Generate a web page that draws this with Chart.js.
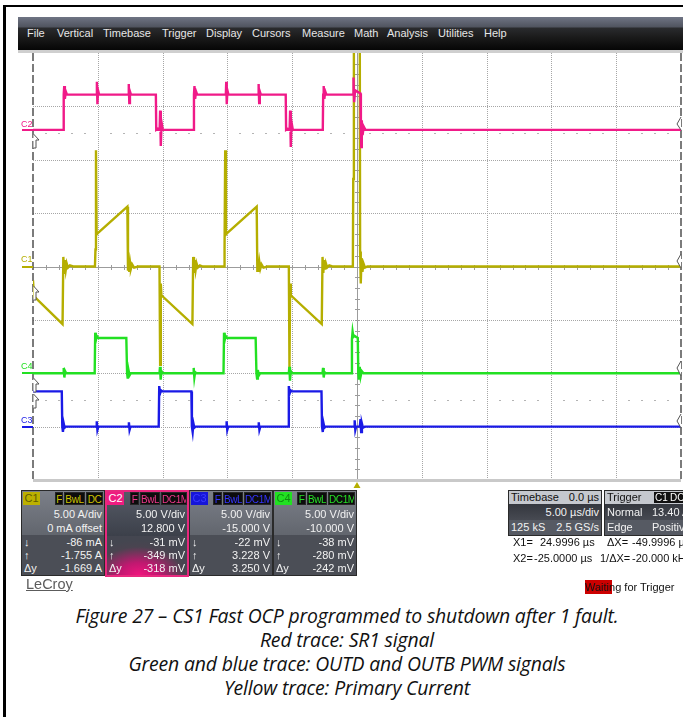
<!DOCTYPE html>
<html><head><meta charset="utf-8">
<script src="https://cdn.jsdelivr.net/npm/chart.js@4.4.1/dist/chart.umd.min.js"></script>
<style>
html,body{margin:0;padding:0}
body{width:683px;height:717px;background:#fff;position:relative;overflow:hidden;font-family:"Liberation Sans",Arial,sans-serif}
.a{position:absolute;white-space:nowrap}
#frameL{left:3px;top:5px;width:3px;height:712px;background:#000}
#frameT{left:3px;top:5px;width:680px;height:2px;background:#000}
#menu{left:18px;top:17px;width:665px;height:33px;background:linear-gradient(#6f7484 0px,#50545f 10px,#2a2b2e 11px,#1b1b1b 20px,#060606 33px)}
#sep{left:18px;top:50px;width:665px;height:3px;background:#cfcfcf}
.mi{top:27px;font-size:11px;line-height:13px;color:#e6e6e6;letter-spacing:0px}
#wrap{left:30px;top:50px;width:654px;height:433px}
.lab{font-size:9px;line-height:10px}
.seg{height:2px}
.panel{top:490px;height:84px;border:1px solid #2a2a2a;overflow:hidden;font-size:11px;color:#f2f2f2}
.up{position:absolute;left:0;top:0;right:0;height:44px}
.lo{position:absolute;left:0;top:44px;right:0;bottom:0}
.row{position:absolute;left:2px;right:2px;height:13px;line-height:13px}
.row .r{position:absolute;right:0}
.row .l{position:absolute;left:0}
.bd{position:absolute;top:1px;height:13px;line-height:13px;font-size:10px;letter-spacing:-0.4px;text-align:center;background:#0c0c0c;border:1px solid #262626;box-sizing:border-box;overflow:hidden}
.cb{position:absolute;top:1px;left:1px;width:17px;height:13px;line-height:13px;font-size:11px;text-align:center}
.tp{top:490px;height:44px;border:1px solid #2a2a2a;font-size:11px;color:#f2f2f2;overflow:hidden}
.cur{font-size:11px;line-height:13px;color:#111}
#cap{left:0;top:604px;width:694px;text-align:center;font-family:"Open Sans",sans-serif;font-style:italic;font-size:19.4px;letter-spacing:-0.15px;line-height:24px;color:#111}
</style></head>
<body>
<div class="a" id="frameL"></div><div class="a" id="frameT"></div>
<div class="a" id="menu"></div><div class="a" id="sep"></div>
<span class="a mi" style="left:27px">File</span>
<span class="a mi" style="left:57px">Vertical</span>
<span class="a mi" style="left:103px">Timebase</span>
<span class="a mi" style="left:162px">Trigger</span>
<span class="a mi" style="left:206px">Display</span>
<span class="a mi" style="left:252px">Cursors</span>
<span class="a mi" style="left:302px">Measure</span>
<span class="a mi" style="left:354px">Math</span>
<span class="a mi" style="left:387px">Analysis</span>
<span class="a mi" style="left:438px">Utilities</span>
<span class="a mi" style="left:484px">Help</span>

<div class="a" id="wrap"><canvas id="scope" width="654" height="433"></canvas></div>

<!-- channel labels on left -->
<span class="a lab" style="left:21px;top:119px;color:#f01a88">C2</span>
<div class="a seg" style="left:22px;top:129px;width:11px;background:#f01a88"></div>
<span class="a lab" style="left:21px;top:254px;color:#b5ae00">C1</span>
<div class="a seg" style="left:22px;top:266px;width:11px;background:#b5ae00"></div>
<span class="a lab" style="left:21px;top:361px;color:#22e022">C4</span>
<div class="a seg" style="left:22px;top:372px;width:11px;background:#22e022"></div>
<span class="a lab" style="left:21px;top:415px;color:#1a1ae6">C3</span>
<div class="a seg" style="left:22px;top:426px;width:11px;background:#1a1ae6"></div>

<!-- ground / offset markers -->
<svg class="a" style="left:0;top:0" width="683" height="500" viewBox="0 0 683 500">
 <g fill="#fff" stroke="#555" stroke-width="1">
  <path d="M33.5 134 L39 140 L36 140 L36 148 L33.5 148"/>
  <path d="M33.5 286 L39 292 L36 292 L36 300 L33.5 300"/>
  <path d="M33.5 378 L39 384 L36 384 L36 392 L33.5 392"/>
  <path d="M33.5 394 L39 400 L36 400 L36 408 L33.5 408"/>
  <path d="M681 117 L677 124 L681 130"/>
  <path d="M681 254 L677 261 L681 268"/>
  <path d="M681 361 L677 368 L681 376"/>
  <path d="M681 414 L677 421 L681 428"/>
 </g>
 <polygon points="357,482 353.5,488 360.5,488" fill="#b5ae00"/>
</svg>

<!-- channel panels -->
<div class="a panel" style="left:21px;width:82px">
 <div class="up" style="background:linear-gradient(#7b7f88,#62666e)"></div>
 <div class="lo" style="background:#4b4e56"></div>
 <div class="cb" style="background:#bcb000;color:#625c00">C1</div>
 <div class="bd" style="left:33px;width:8px;color:#cfc200">F</div>
 <div class="bd" style="left:42px;width:21px;color:#cfc200">BwL</div>
 <div class="bd" style="left:64px;width:17px;color:#cfc200">DC</div>
 <div class="row" style="top:17px"><span class="r">5.00 A/div</span></div>
 <div class="row" style="top:31px"><span class="r">0 mA offset</span></div>
 <div class="row" style="top:45px"><span class="l">↓</span><span class="r">-86 mA</span></div>
 <div class="row" style="top:58px"><span class="l">↑</span><span class="r">-1.755 A</span></div>
 <div class="row" style="top:71px"><span class="l">Δy</span><span class="r">-1.669 A</span></div>
</div>
<div class="a panel" style="left:105px;width:80px;border:2px solid #e8287e;height:83px">
 <div class="up" style="background:linear-gradient(#565b66,#3c404a)"></div>
 <div class="lo" style="background:radial-gradient(ellipse 70% 90% at 40% 100%,#f0147e 0%,#c01870 35%,#4a4450 80%,#444650 100%)"></div>
 <div class="cb" style="left:0;top:0;background:#ee1c80;color:#fff">C2</div>
 <div class="bd" style="left:23px;top:0;width:9px;color:#f0388c">F</div>
 <div class="bd" style="left:33px;top:0;width:20px;color:#f0388c">BwL</div>
 <div class="bd" style="left:54px;top:0;width:26px;color:#f0388c">DC1M</div>
 <div class="row" style="top:16px"><span class="r">5.00 V/div</span></div>
 <div class="row" style="top:30px"><span class="r">12.800 V</span></div>
 <div class="row" style="top:44px"><span class="l">↓</span><span class="r">-31 mV</span></div>
 <div class="row" style="top:57px"><span class="l">↑</span><span class="r">-349 mV</span></div>
 <div class="row" style="top:70px"><span class="l">Δy</span><span class="r">-318 mV</span></div>
</div>
<div class="a panel" style="left:189px;width:82px">
 <div class="up" style="background:linear-gradient(#7b7f88,#62666e)"></div>
 <div class="lo" style="background:#4b4e56"></div>
 <div class="cb" style="background:#1616d8;color:#3a3aff">C3</div>
 <div class="bd" style="left:23px;width:9px;color:#3434ff">F</div>
 <div class="bd" style="left:33px;width:20px;color:#3434ff">BwL</div>
 <div class="bd" style="left:54px;width:27px;color:#3434ff">DC1M</div>
 <div class="row" style="top:17px"><span class="r">5.00 V/div</span></div>
 <div class="row" style="top:31px"><span class="r">-15.000 V</span></div>
 <div class="row" style="top:45px"><span class="l">↓</span><span class="r">-22 mV</span></div>
 <div class="row" style="top:58px"><span class="l">↑</span><span class="r">3.228 V</span></div>
 <div class="row" style="top:71px"><span class="l">Δy</span><span class="r">3.250 V</span></div>
</div>
<div class="a panel" style="left:273px;width:82px">
 <div class="up" style="background:linear-gradient(#7b7f88,#62666e)"></div>
 <div class="lo" style="background:#4b4e56"></div>
 <div class="cb" style="background:#22e022;color:#0f8a0f">C4</div>
 <div class="bd" style="left:23px;width:9px;color:#26e026">F</div>
 <div class="bd" style="left:33px;width:20px;color:#26e026">BwL</div>
 <div class="bd" style="left:54px;width:27px;color:#26e026">DC1M</div>
 <div class="row" style="top:17px"><span class="r">5.00 V/div</span></div>
 <div class="row" style="top:31px"><span class="r">-10.000 V</span></div>
 <div class="row" style="top:45px"><span class="l">↓</span><span class="r">-38 mV</span></div>
 <div class="row" style="top:58px"><span class="l">↑</span><span class="r">-280 mV</span></div>
 <div class="row" style="top:71px"><span class="l">Δy</span><span class="r">-242 mV</span></div>
</div>

<span class="a" style="left:26px;top:576px;font-size:14.5px;line-height:16px;color:#5c5c5c;text-decoration:underline">LeCroy</span>

<!-- timebase / trigger -->
<div class="a tp" style="left:508px;width:92px">
 <div style="position:absolute;left:0;right:0;top:0;height:13px;background:#c5c8ce;color:#111;line-height:13px"><span style="position:absolute;left:2px">Timebase</span><span style="position:absolute;right:2px">0.0 µs</span></div>
 <div style="position:absolute;left:0;right:0;top:13px;height:16px;background:linear-gradient(#34373e,#474a52);line-height:16px"><span style="position:absolute;right:2px">5.00 µs/div</span></div>
 <div style="position:absolute;left:0;right:0;top:29px;height:15px;background:#565a63;line-height:15px"><span style="position:absolute;left:2px">125 kS</span><span style="position:absolute;right:2px">2.5 GS/s</span></div>
</div>
<div class="a tp" style="left:604px;width:85px">
 <div style="position:absolute;left:0;right:0;top:0;height:13px;background:#c5c8ce;color:#111;line-height:13px"><span style="position:absolute;left:2px">Trigger</span>
  <span style="position:absolute;left:49px;top:1px;height:11px;line-height:11px;background:#111;color:#fff;font-size:10px;padding:0 1px">C1</span>
  <span style="position:absolute;left:64px;top:1px;height:11px;line-height:11px;background:#111;color:#fff;font-size:10px;padding:0 1px">DC</span></div>
 <div style="position:absolute;left:0;right:0;top:13px;height:16px;background:linear-gradient(#34373e,#474a52);line-height:16px"><span style="position:absolute;left:2px">Normal</span><span style="position:absolute;left:47px">13.40 A</span></div>
 <div style="position:absolute;left:0;right:0;top:29px;height:15px;background:#565a63;line-height:15px"><span style="position:absolute;left:2px">Edge</span><span style="position:absolute;left:47px">Positive</span></div>
</div>
<span class="a cur" style="left:513px;top:536px">X1=</span>
<span class="a cur" style="left:540px;top:536px">24.9996 µs</span>
<span class="a cur" style="left:607px;top:536px">ΔX=</span>
<span class="a cur" style="left:632px;top:536px">-49.9996 µs</span>
<span class="a cur" style="left:513px;top:552px">X2=</span>
<span class="a cur" style="left:534px;top:552px">-25.0000 µs</span>
<span class="a cur" style="left:600px;top:552px">1/ΔX=</span>
<span class="a cur" style="left:632px;top:552px">-20.000 kHz</span>
<div class="a" style="left:585px;top:580px;width:27px;height:14px;background:#cc0000"></div>
<span class="a cur" style="left:585px;top:581px">Waiting for Trigger</span>

<div class="a" id="cap">Figure 27 – CS1 Fast OCP programmed to shutdown after 1 fault.<br>Red trace: SR1 signal<br>Green and blue trace: OUTD and OUTB PWM signals<br>Yellow trace: Primary Current</div>

<script>
// ---- channel settings (per div scale and offset, as shown on the panels) ----
const channelNames = ['C1', 'C2', 'C3', 'C4'];
const unitsPerDiv = [5, 5, 5, 5];
const channelOffset = [0, 12.8, -15, -10];
const traceColors = ['#b5ae00', '#f01a88', '#1a1ae6', '#22e022'];

// ---- time axis (µs) and screen divisions ----
const timeMin = -25, timeMax = 25, timePerDiv = 5;
const vertDivs = 4;

// ---- C1: primary current [time µs, amps] ----
const c1Current = [
 [-25.0,-1.3],[-24.92,-2.8],[-22.72,-5.4],[-22.66,0.9],[-22.6,-0.6],[-22.54,0.6],[-22.47,-0.3],[-22.4,0.3],[-22.3,-0.1],[-22.15,0.1],[-21.9,0],
 [-20.22,0],[-20.18,1.6],[-20.14,10.9],[-20.09,3.0],[-20.02,3.1],[-17.72,5.6],[-17.67,-0.4],[-17.62,0.7],[-17.57,-0.5],[-17.51,0.4],[-17.44,-0.2],[-17.35,0.2],[-17.2,-0.1],[-16.9,0],
 [-15.24,0],[-15.19,-9.2],[-15.14,-1.6],[-15.09,-2.7],[-12.7,-5.4],[-12.64,0.9],[-12.58,-0.6],[-12.52,0.6],[-12.45,-0.3],[-12.38,0.3],[-12.28,-0.1],[-12.12,0.1],[-11.9,0],
 [-10.26,0],[-10.22,1.6],[-10.17,10.9],[-10.11,3.0],[-10.04,3.1],[-7.74,5.6],[-7.69,-0.4],[-7.64,0.7],[-7.59,-0.5],[-7.53,0.4],[-7.46,-0.2],[-7.37,0.2],[-7.22,-0.1],[-6.9,0],
 [-5.26,0],[-5.21,-9.5],[-5.16,-1.6],[-5.11,-2.7],[-2.72,-5.4],[-2.66,0.9],[-2.6,-0.6],[-2.54,0.6],[-2.47,-0.3],[-2.4,0.3],[-2.3,-0.1],[-2.14,0.1],[-1.9,0],
 [-0.32,0],[-0.29,8.2],[-0.24,25],[0.21,25],[0.24,1.4],[0.29,-1.6],[0.35,0.8],[0.42,-0.5],[0.5,0.3],[0.62,-0.1],[0.8,0],[25.0,0]
];
// ---- C2: SR1 signal [time µs, volts] ----
const c2SR1 = [
 [-25.0,0],[-22.66,0],[-22.63,3.3],[-22.59,4.1],[-22.54,2.9],[-22.47,3.6],[-22.38,3.3],
 [-20.1,3.3],[-20.07,4.5],[-20.03,2.4],[-19.98,3.7],[-19.9,3.3],
 [-17.64,3.3],[-17.61,4.3],[-17.57,2.5],[-17.52,3.6],[-17.44,3.3],
 [-15.52,3.3],[-15.49,0],[-15.36,0.1],[-15.23,0],[-15.19,1.8],[-15.14,-1.5],[-15.08,0.7],[-14.98,0],
 [-12.61,0],[-12.58,3.3],[-12.54,4.1],[-12.49,2.9],[-12.42,3.6],[-12.33,3.3],
 [-10.12,3.3],[-10.09,4.5],[-10.05,2.4],[-10.0,3.7],[-9.92,3.3],
 [-7.62,3.3],[-7.59,4.3],[-7.55,2.5],[-7.5,3.6],[-7.42,3.3],
 [-5.5,3.3],[-5.47,0],[-5.34,0.1],[-5.2,0],[-5.16,1.8],[-5.11,-1.6],[-5.05,0.7],[-4.95,0],
 [-2.64,0],[-2.61,3.3],[-2.57,4.1],[-2.52,2.9],[-2.45,3.6],[-2.36,3.3],
 [-0.3,3.3],[-0.27,4.9],[-0.22,2.6],[-0.15,3.7],[0.27,3.4],[0.3,0],[0.33,-1.6],[0.37,0.9],[0.43,-0.5],[0.52,0.3],[0.65,0],[25.0,0]
];
// ---- C3: OUTB PWM [time µs, volts] ----
const c3OutB = [
 [-25.0,3.3],[-22.78,3.3],[-22.74,0],[-22.69,-0.5],[-22.63,0.3],[-22.56,-0.1],[-22.46,0],
 [-20.12,0],[-20.08,0.5],[-20.03,-0.3],[-19.96,0],
 [-17.64,0],[-17.6,0.4],[-17.55,-0.3],[-17.48,0],
 [-15.3,0],[-15.26,3.8],[-15.2,3.1],[-15.12,3.4],[-15.0,3.3],
 [-12.78,3.3],[-12.74,0],[-12.68,-0.5],[-12.62,0.3],[-12.55,-0.1],[-12.45,0],
 [-10.1,0],[-10.06,0.5],[-10.01,-0.3],[-9.94,0],
 [-7.62,0],[-7.58,0.4],[-7.53,-0.3],[-7.46,0],
 [-5.3,0],[-5.26,3.8],[-5.2,3.1],[-5.12,3.4],[-5.0,3.3],
 [-2.74,3.3],[-2.7,0],[-2.64,-0.5],[-2.58,0.3],[-2.51,-0.1],[-2.41,0],
 [-0.22,0],[-0.18,0.6],[-0.13,-0.3],[-0.07,0],[0.22,0],[0.27,0.7],[0.32,-0.5],[0.38,0.3],[0.46,-0.1],[0.6,0],[25.0,0]
];
// ---- C4: OUTD PWM [time µs, volts] ----
const c4OutD = [
 [-25.0,0],[-22.68,0],[-22.63,0.5],[-22.58,-0.4],[-22.52,0.2],[-22.44,0],
 [-20.24,0],[-20.2,3.8],[-20.15,3.1],[-20.08,3.5],[-19.95,3.3],
 [-17.8,3.3],[-17.74,0],[-17.69,-0.5],[-17.63,0.3],[-17.55,-0.2],[-17.45,0],
 [-15.24,0],[-15.2,0.6],[-15.15,-0.6],[-15.09,0.2],[-15.0,0],
 [-12.64,0],[-12.6,0.5],[-12.55,-0.4],[-12.49,0.1],[-12.4,0],
 [-10.3,0],[-10.26,3.8],[-10.21,3.1],[-10.14,3.5],[-10.0,3.3],
 [-7.82,3.3],[-7.76,0],[-7.71,-0.5],[-7.65,0.3],[-7.57,-0.2],[-7.47,0],
 [-5.26,0],[-5.22,0.6],[-5.17,-0.7],[-5.11,0.2],[-5.02,0],
 [-2.66,0],[-2.62,0.5],[-2.57,-0.4],[-2.51,0.1],[-2.42,0],
 [-0.42,0],[-0.39,3.2],[-0.34,3.9],[-0.28,3.4],[-0.2,3.5],[0.06,3.3],[0.1,0],[0.15,-0.6],[0.21,0.6],[0.28,-0.3],[0.37,0.2],[0.5,0],[25.0,0]
];

const channelData = [c1Current, c2SR1, c3OutB, c4OutD];
function toDivs(series, ch) {
  return series.map(p => ({x: p[0], y: (p[1] + channelOffset[ch]) / unitsPerDiv[ch]}));
}
const drawOrder = [1, 3, 2, 0];
const datasets = drawOrder.map(ch => ({
  label: channelNames[ch],
  data: toDivs(channelData[ch], ch),
  borderColor: traceColors[ch],
  borderWidth: 2.4,
  pointRadius: 0,
  tension: 0,
  fill: false
}));

const scopeGrid = {
  id: 'scopeGrid',
  beforeDatasetsDraw(chart) {
    const {ctx, chartArea: a} = chart;
    const x = chart.scales.x, y = chart.scales.y;
    ctx.save();
    ctx.setLineDash([]);
    const top = Math.round(a.top), bot = Math.round(a.bottom);
    const left = Math.round(a.left), right = Math.round(a.right);
    // dotted division lines
    ctx.fillStyle = '#a6a6a6';
    for (let t = timeMin + timePerDiv; t < timeMax; t += timePerDiv) {
      if (t === 0) continue;
      const px = Math.round(x.getPixelForValue(t));
      for (let py = top; py < bot; py += 2) ctx.fillRect(px, py, 1, 1);
    }
    for (let v = -vertDivs + 1; v < vertDivs; v += 1) {
      if (v === 0) continue;
      const py = Math.round(y.getPixelForValue(v));
      for (let px = left; px < right; px += 2) ctx.fillRect(px, py, 1, 1);
    }
    // solid centre axes with minor ticks
    const x0 = Math.round(x.getPixelForValue(0));
    const y0 = Math.round(y.getPixelForValue(0));
    ctx.fillStyle = '#9c9c9c';
    ctx.fillRect(x0, top, 1, bot - top);
    ctx.fillRect(left, y0, right - left, 1);
    for (let t = timeMin + 1; t < timeMax; t += 1) {
      const px = Math.round(x.getPixelForValue(t));
      ctx.fillRect(px, y0 - 2, 1, 5);
    }
    for (let k = -vertDivs * 5 + 1; k < vertDivs * 5; k++) {
      const py = Math.round(y.getPixelForValue(k / 5));
      ctx.fillRect(x0 - 2, py, 5, 1);
    }
    // sparse marks at +/- 2.5 div
    ctx.fillStyle = '#b4b4b4';
    [2.5, -2.5].forEach(v => {
      const py = Math.round(y.getPixelForValue(v));
      for (let t = timeMin + 1; t < timeMax; t += 1) {
        if (t % timePerDiv === 0) continue;
        const px = Math.round(x.getPixelForValue(t));
        ctx.fillRect(px - 1, py, 2, 1);
      }
    });
    // frame edges
    ctx.fillStyle = '#c9c9c9';
    ctx.fillRect(left, bot - 1, right - left, 3);
    ctx.strokeStyle = '#505050';
    ctx.lineWidth = 1.5;
    ctx.setLineDash([8, 3]);
    ctx.beginPath();
    ctx.moveTo(a.left, a.top); ctx.lineTo(a.left, a.bottom);
    ctx.moveTo(a.right, a.top); ctx.lineTo(a.right, a.bottom);
    ctx.stroke();
    ctx.restore();
  }
};

new Chart(document.getElementById('scope'), {
  type: 'line',
  data: {datasets},
  options: {
    responsive: false,
    animation: false,
    events: [],
    layout: {padding: {left: 3, right: 3, top: 3, bottom: 3}},
    plugins: {legend: {display: false}, tooltip: {enabled: false}},
    scales: {
      x: {
        type: 'linear', min: timeMin, max: timeMax,
        ticks: {display: false, stepSize: timePerDiv},
        grid: {display: false, drawTicks: false},
        border: {display: false}
      },
      y: {
        type: 'linear', min: -vertDivs, max: vertDivs,
        ticks: {display: false, stepSize: 1},
        grid: {display: false, drawTicks: false},
        border: {display: false}
      }
    }
  },
  plugins: [scopeGrid]
});
</script>
</body></html>
